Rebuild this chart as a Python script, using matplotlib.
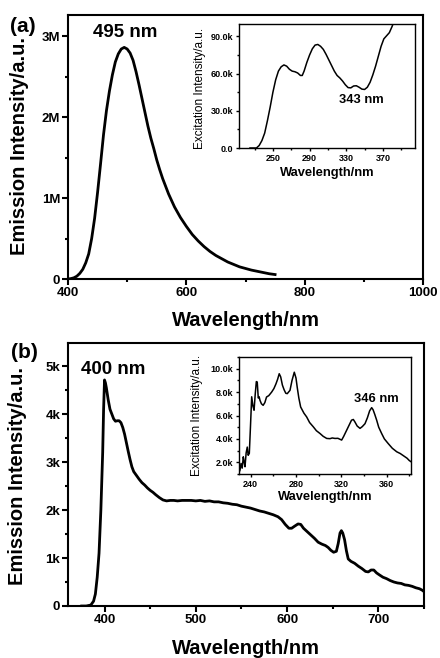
import matplotlib
matplotlib.use("Agg")
import matplotlib.pyplot as plt
from matplotlib.ticker import MultipleLocator, FixedLocator, FuncFormatter

plt.rcParams['font.family'] = ['Liberation Sans', 'DejaVu Sans']

# ---------------- data ----------------
# (a) main emission spectrum (intensity in M)
a_wl = [400, 405, 410, 415, 420, 425, 430, 435, 440, 445, 450, 455, 460, 465, 470, 475,
        480, 485, 490, 495, 500, 505, 510, 515, 520, 525, 530, 535, 540, 545, 550, 555,
        560, 570, 580, 590, 600, 610, 620, 630, 640, 650, 660, 670, 680, 690, 700, 710,
        720, 730, 740, 750]
a_int_M = [0.0, 0.005, 0.015, 0.035, 0.07, 0.12, 0.2, 0.31, 0.5, 0.75, 1.07, 1.42, 1.78,
           2.08, 2.32, 2.52, 2.68, 2.78, 2.84, 2.86, 2.84, 2.79, 2.70, 2.56, 2.40, 2.23,
           2.06, 1.89, 1.74, 1.61, 1.47, 1.35, 1.24, 1.05, 0.89, 0.76, 0.65, 0.55, 0.47,
           0.40, 0.34, 0.29, 0.25, 0.21, 0.18, 0.15, 0.13, 0.11, 0.095, 0.08, 0.065, 0.055]
# (a) inset excitation spectrum (intensity in k)
ai_wl = [225, 232, 235, 238, 241, 244, 247, 250, 253, 256, 259, 262, 265, 268, 271, 274,
         277, 280, 282, 284, 287, 290, 293, 296, 299, 302, 305, 308, 311, 314, 317, 320,
         323, 326, 329, 332, 335, 338, 341, 344, 347, 350, 353, 356, 359, 362, 365, 368,
         371, 374, 377, 380, 383]
ai_int_k = [0, 0, 2, 6, 12, 22, 33, 45, 55, 62, 65.5, 67, 66, 63.5, 62, 61.5, 60.5, 58.5,
            58.5, 62, 69, 75, 80, 83, 83.5, 82, 79.5, 75.5, 71, 66.5, 62, 58.5, 56.5, 54,
            51, 48.7, 48.5, 50, 50.2, 49, 47.5, 47.2, 49, 53, 59, 66, 74, 82, 88, 90.5,
            93, 98, 104]
# (b) main emission spectrum (intensity in k)
b_wl = [375, 380, 385, 388, 390, 392, 394, 396, 397, 398, 399, 400, 401, 402, 404, 406,
        408, 410, 412, 414, 416, 418, 420, 422, 424, 426, 428, 430, 432, 435, 438, 441,
        444, 447, 450, 453, 456, 460, 464, 468, 472, 476, 480, 485, 490, 495, 500, 505,
        510, 515, 520, 525, 530, 535, 540, 545, 550, 555, 560, 565, 570, 575, 580, 585,
        590, 594, 598, 602, 605, 608, 612, 615, 618, 622, 626, 630, 634, 638, 642, 645,
        648, 651, 654, 656, 658, 659.5, 661, 663, 665, 667, 670, 674, 678, 682, 686, 689,
        692, 695, 698, 701, 705, 709, 713, 717, 721, 725, 729, 733, 737, 741, 745, 748, 750]
b_int_k = [0, 0.0, 0.02, 0.1, 0.25, 0.6, 1.1, 2.0, 2.6, 3.2, 4.1, 4.71, 4.65, 4.55, 4.3,
           4.1, 4.0, 3.9, 3.85, 3.86, 3.86, 3.82, 3.72, 3.58, 3.4, 3.22, 3.05, 2.9, 2.8,
           2.72, 2.64, 2.57, 2.52, 2.46, 2.41, 2.37, 2.32, 2.26, 2.21, 2.19, 2.2, 2.2,
           2.19, 2.2, 2.2, 2.2, 2.19, 2.2, 2.18, 2.19, 2.17, 2.17, 2.15, 2.14, 2.12, 2.11,
           2.08, 2.06, 2.04, 2.01, 1.98, 1.96, 1.93, 1.9, 1.86, 1.8, 1.7, 1.62, 1.62, 1.66,
           1.71, 1.7, 1.62, 1.55, 1.48, 1.41, 1.33, 1.29, 1.26, 1.22, 1.16, 1.12, 1.14,
           1.3, 1.52, 1.57, 1.52, 1.38, 1.15, 0.98, 0.93, 0.89, 0.83, 0.78, 0.72, 0.71,
           0.75, 0.75, 0.69, 0.65, 0.6, 0.57, 0.53, 0.5, 0.48, 0.47, 0.44, 0.43, 0.41,
           0.38, 0.36, 0.33, 0.3]
# (b) inset excitation spectrum (intensity in k)
bi_wl = [230, 230.6, 231.5, 232.5, 233.5, 234.3, 235, 236, 237, 237.8, 238.8, 239.8,
         240.9, 242, 243, 244, 245, 245.8, 246.7, 247.5, 248.2, 249.5, 251, 252.5, 254,
         256, 258.5, 260.5, 262.3, 263.8, 265.2, 266.5, 268, 269.5, 271, 272.3, 274.7,
         276.5, 278.5, 280, 281.1, 282.5, 284.1, 287, 289.4, 292, 295.3, 298, 301.2, 304,
         307.1, 310, 312, 314.4, 317, 320.3, 322, 324.7, 327, 329, 330.6, 332, 334, 336.5,
         338.5, 340.9, 343, 345, 346.8, 348, 349.5, 351.2, 353, 355.6, 358, 361.4, 365,
         368.9, 372, 376.2, 378, 380, 381.5]
bi_int_k = [1.2, 1.34, 1.9, 1.5, 2.47, 2.0, 1.62, 2.8, 3.3, 2.6, 2.76, 5.0, 7.6, 6.8,
            6.45, 7.8, 8.9, 8.86, 7.5, 7.6, 7.3, 7.0, 6.87, 7.1, 7.58, 7.7, 8.0, 8.3, 8.7,
            9.1, 9.57, 9.3, 8.6, 8.2, 7.9, 7.87, 8.15, 9.0, 9.7, 9.2, 8.4, 7.5, 6.73, 6.2,
            5.88, 5.4, 5.03, 4.7, 4.46, 4.22, 4.04, 4.02, 4.08, 4.04, 4.05, 3.9, 4.2, 4.74,
            5.2, 5.6, 5.66, 5.45, 5.1, 4.9, 5.05, 5.3, 5.8, 6.4, 6.67, 6.5, 6.1, 5.6, 5.0,
            4.46, 4.0, 3.6, 3.2, 2.9, 2.75, 2.47, 2.35, 2.15, 2.05]

a_peak_label = "495 nm"
ai_peak_label = "343 nm"
b_peak_label = "400 nm"
bi_peak_label = "346 nm"

W, H = 440, 658
fig = plt.figure(figsize=(W / 100, H / 100), dpi=100)


def box(left, top, right, bottom):
    return [left / W, 1 - bottom / H, (right - left) / W, (bottom - top) / H]


def ftext(x, y, s, **kw):
    fig.text(x / W, 1 - y / H, s, **kw)


def style(ax, lw, major_len, minor_len, fs, bold=True):
    for sp in ax.spines.values():
        sp.set_linewidth(lw)
    ax.tick_params(which='major', direction='out', length=major_len, width=lw,
                   labelsize=fs, pad=1.5)
    ax.tick_params(which='minor', direction='out', length=minor_len, width=lw)
    for lab in ax.get_xticklabels() + ax.get_yticklabels():
        lab.set_fontweight('bold' if bold else 'normal')


def kfmt(v, p):
    return "0.0" if v == 0 else f"{v:.1f}k"

# ---------------- panel (a) ----------------
ax1 = fig.add_axes(box(68, 15, 423, 279))
ax1.plot(a_wl, a_int_M, color='black', lw=2.0, solid_joinstyle='round')
ax1.set_xlim(400, 1000)
ax1.set_ylim(0, 3.26)
ax1.xaxis.set_major_locator(MultipleLocator(200))
ax1.xaxis.set_minor_locator(MultipleLocator(100))
ax1.yaxis.set_major_locator(MultipleLocator(1))
ax1.yaxis.set_minor_locator(MultipleLocator(0.5))
ax1.yaxis.set_major_formatter(FuncFormatter(lambda v, p: "0" if v == 0 else f"{v:.0f}M"))
style(ax1, 1.5, 4, 2.5, 9.5)
ax1.text(496, 3.04, a_peak_label, ha='center', va='center', fontsize=13.5, fontweight='bold')

ax1i = fig.add_axes(box(239, 24, 415, 148))
ax1i.plot(ai_wl, ai_int_k, color='black', lw=1.1)
ax1i.set_xlim(213, 405)
ax1i.set_ylim(0, 100)
ax1i.xaxis.set_major_locator(FixedLocator([250, 290, 330, 370]))
ax1i.xaxis.set_minor_locator(FixedLocator([230, 270, 310, 350, 390]))
ax1i.yaxis.set_major_locator(MultipleLocator(30))
ax1i.yaxis.set_minor_locator(MultipleLocator(15))
ax1i.yaxis.set_major_formatter(FuncFormatter(kfmt))
style(ax1i, 1.0, 2.5, 1.5, 6.5)
ax1i.text(346.7, 38.7, ai_peak_label, ha='center', va='center', fontsize=9.3, fontweight='bold')

# ---------------- panel (b) ----------------
ax2 = fig.add_axes(box(68, 343, 424, 606))
ax2.plot(b_wl, b_int_k, color='black', lw=2.0, solid_joinstyle='round')
ax2.set_xlim(360, 750)
ax2.set_ylim(0, 5.48)
ax2.xaxis.set_major_locator(MultipleLocator(100))
ax2.xaxis.set_minor_locator(MultipleLocator(50))
ax2.yaxis.set_major_locator(MultipleLocator(1))
ax2.yaxis.set_minor_locator(MultipleLocator(0.5))
ax2.yaxis.set_major_formatter(FuncFormatter(lambda v, p: "0" if v == 0 else f"{v:.0f}k"))
style(ax2, 1.5, 4, 2.5, 9.5)
ax2.text(409, 4.92, b_peak_label, ha='center', va='center', fontsize=13.5, fontweight='bold')

ax2i = fig.add_axes(box(239, 357, 411, 474))
ax2i.plot(bi_wl, bi_int_k, color='black', lw=1.1)
ax2i.set_xlim(229.7, 381.5)
ax2i.set_ylim(1, 11)
ax2i.xaxis.set_major_locator(MultipleLocator(40))
ax2i.xaxis.set_minor_locator(MultipleLocator(20))
ax2i.yaxis.set_major_locator(MultipleLocator(2))
ax2i.yaxis.set_minor_locator(MultipleLocator(1))
ax2i.yaxis.set_major_formatter(FuncFormatter(kfmt))
style(ax2i, 1.0, 2.5, 1.5, 6.5)
ax2i.text(351.2, 7.44, bi_peak_label, ha='center', va='center', fontsize=9.3, fontweight='bold')

# ---------------- labels ----------------
ftext(20, 146, "Emission Intensity/a.u.", rotation=90, ha='center', va='center',
      fontsize=14.5, fontweight='bold')
ftext(246, 321, "Wavelength/nm", ha='center', va='center', fontsize=14.5, fontweight='bold')
ftext(200, 88, "Excitation Intensity/a.u.", rotation=90, ha='center', va='center', fontsize=8.5)
ftext(327, 173, "Wavelength/nm", ha='center', va='center', fontsize=9.3, fontweight='bold')
ftext(23, 26, "(a)", ha='center', va='center', fontsize=15, fontweight='bold')

ftext(18, 476, "Emission Intensity/a.u.", rotation=90, ha='center', va='center',
      fontsize=14.5, fontweight='bold')
ftext(246, 648, "Wavelength/nm", ha='center', va='center', fontsize=14.5, fontweight='bold')
ftext(197, 415, "Excitation Intensity/a.u.", rotation=90, ha='center', va='center', fontsize=8.5)
ftext(325, 497, "Wavelength/nm", ha='center', va='center', fontsize=9.3, fontweight='bold')
ftext(24, 352, "(b)", ha='center', va='center', fontsize=15, fontweight='bold')

fig.savefig("out.png", dpi=100)
